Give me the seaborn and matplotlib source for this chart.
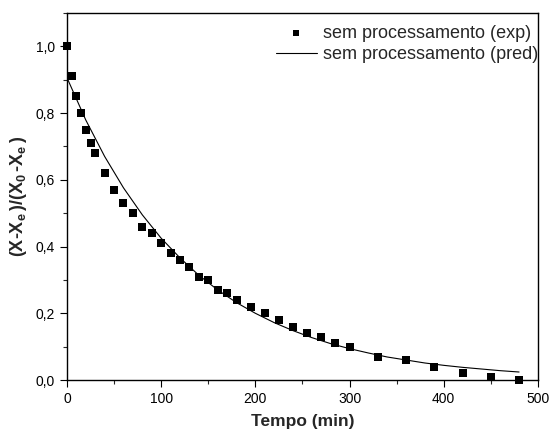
import matplotlib
matplotlib.use("Agg")
import matplotlib.pyplot as plt
import seaborn as sns
import pandas as pd
from matplotlib.ticker import MultipleLocator, FuncFormatter

# Experimental data
tempo_exp = [0, 5, 10, 15, 20, 25, 30, 40, 50, 60, 70, 80, 90, 100, 110, 120, 130,
             140, 150, 160, 170, 180, 195, 210, 225, 240, 255, 270, 285, 300,
             330, 360, 390, 420, 450, 480]
razao_exp = [1.00, 0.91, 0.85, 0.80, 0.75, 0.71, 0.68, 0.62, 0.57, 0.53, 0.50, 0.46,
             0.44, 0.41, 0.38, 0.36, 0.34, 0.31, 0.30, 0.27, 0.26, 0.24, 0.22, 0.20,
             0.18, 0.16, 0.14, 0.13, 0.11, 0.10, 0.07, 0.06, 0.04, 0.02, 0.01, 0.00]

# Predicted curve
tempo_pred = [0, 20, 40, 60, 80, 100, 120, 140, 160, 180, 200, 220, 240, 260, 280,
              300, 320, 340, 360, 380, 400, 420, 440, 460, 480]
razao_pred = [0.906, 0.779, 0.670, 0.576, 0.495, 0.425, 0.366, 0.314, 0.270, 0.232,
              0.200, 0.172, 0.148, 0.127, 0.109, 0.094, 0.081, 0.069, 0.060, 0.051,
              0.044, 0.038, 0.033, 0.028, 0.024]

label_exp = "sem processamento (exp)"
label_pred = "sem processamento (pred)"

sns.set_style("ticks")
plt.rcParams['font.family'] = ['Liberation Sans', 'DejaVu Sans']
plt.rcParams['mathtext.fontset'] = 'custom'
plt.rcParams['mathtext.rm'] = 'Liberation Sans:bold'
plt.rcParams['mathtext.it'] = 'Liberation Sans:bold'
plt.rcParams['mathtext.bf'] = 'Liberation Sans:bold'

df_exp = pd.DataFrame({"t": tempo_exp, "r": razao_exp})
df_pred = pd.DataFrame({"t": tempo_pred, "r": razao_pred})

fig = plt.figure(figsize=(5.5, 4.34), dpi=100)
ax = fig.add_axes([0.1218, 0.1244, 0.8562, 0.8456])

sns.scatterplot(data=df_exp, x="t", y="r", marker="s", s=32, color="black",
                linewidth=0, ax=ax, label=label_exp, clip_on=False, zorder=3)
sns.lineplot(data=df_pred, x="t", y="r", color="black", linewidth=0.8, ax=ax,
             label=label_pred)

ax.set_xlim(0, 500)
ax.set_ylim(0, 1.1)
ax.xaxis.set_major_locator(MultipleLocator(100))
ax.xaxis.set_minor_locator(MultipleLocator(50))
ax.yaxis.set_major_locator(MultipleLocator(0.2))
ax.yaxis.set_minor_locator(MultipleLocator(0.1))
ax.yaxis.set_major_formatter(FuncFormatter(lambda v, p: f"{v:.1f}".replace(".", ",")))
ax.tick_params(which="major", direction="out", length=5, width=0.8, labelsize=10,
               colors="black", top=False, right=False)
ax.tick_params(which="minor", direction="out", length=3, width=0.8,
               top=False, right=False)
for sp in ax.spines.values():
    sp.set_visible(True)
    sp.set_color("black")
    sp.set_linewidth(1.0)

ax.set_xlabel("Tempo (min)", fontsize=12.5, fontweight="bold", labelpad=6)
ax.set_ylabel(r"(X-X$_e$$\,$)/(X$_0$$\,$-X$_e$$\,$)", fontsize=13, fontweight="bold",
              labelpad=5)

leg = ax.legend(loc="upper right", bbox_to_anchor=(1.0, 0.968), frameon=False,
                fontsize=13, handlelength=2.28, handletextpad=0.33,
                borderaxespad=0, labelspacing=0.245, borderpad=0, markerscale=0.8)

fig.savefig("out.png", dpi=100)
